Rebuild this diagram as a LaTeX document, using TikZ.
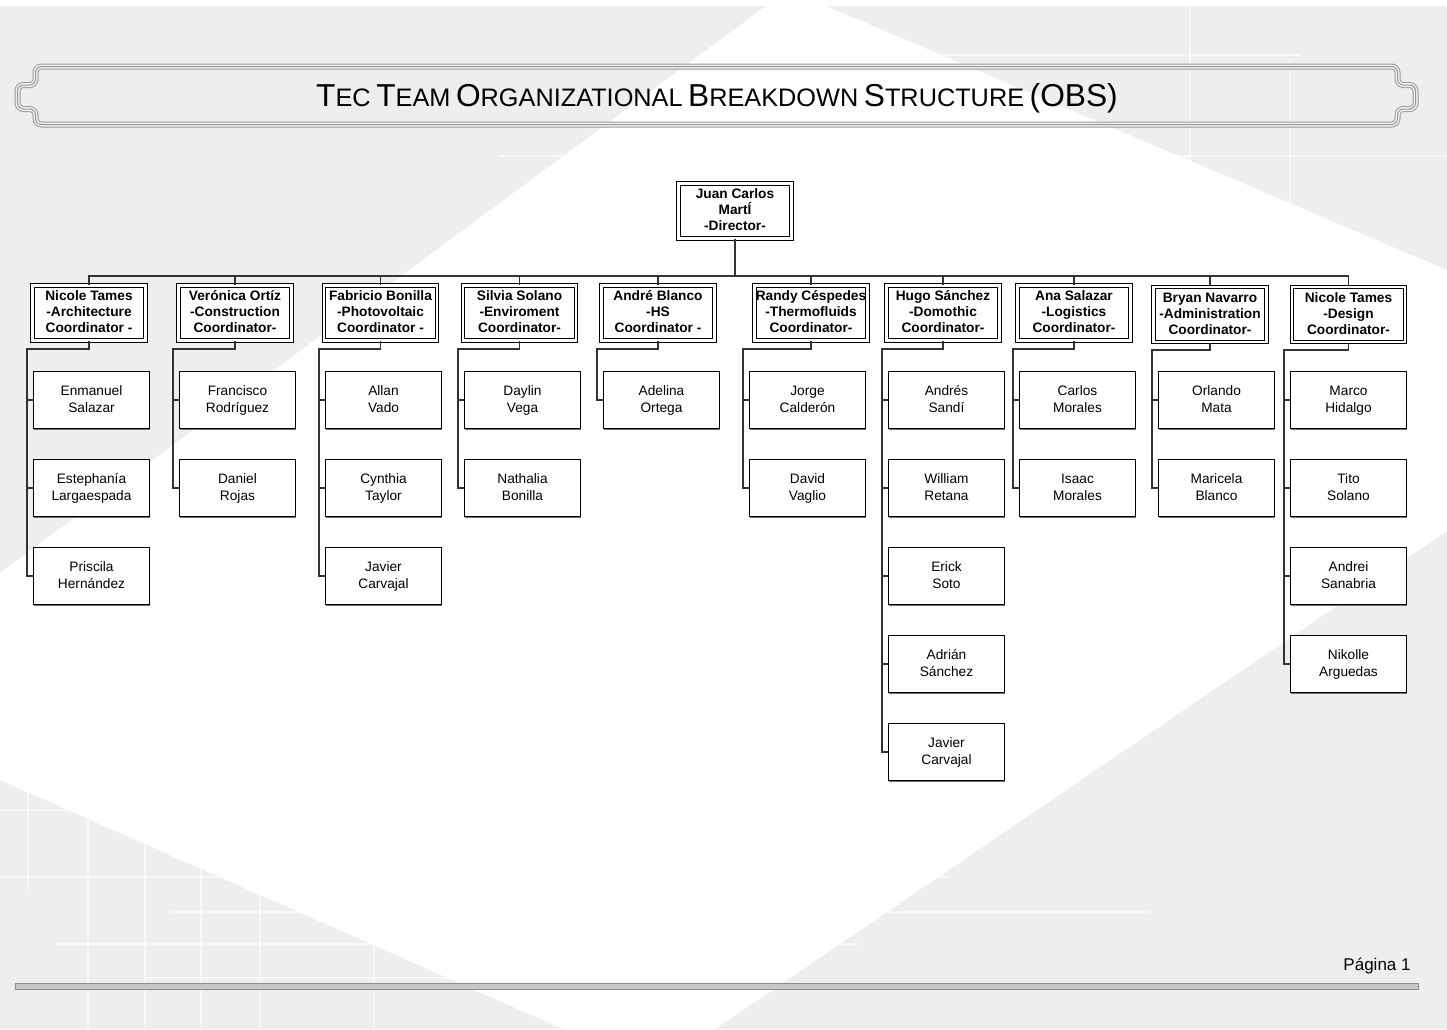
\documentclass[tikz,border=0pt]{standalone}
\usepackage{fontspec}
\setmainfont{Liberation Sans}
\usetikzlibrary{positioning}
\usetikzlibrary{shadows}
\definecolor{bggray}{HTML}{EEEEEE}
\tikzset{head node/.style={rectangle,draw=black,line width=0.6pt,double=white,double distance=1.2pt,fill=white,minimum width=56.5pt,minimum height=27.5pt,inner sep=0pt,align=center,font=\bfseries\fontsize{6.85}{8}\selectfont,text height=21.5pt,text depth=1.6pt}}
\tikzset{member node/.style={rectangle,draw=black,line width=0.5pt,fill=white,minimum width=58pt,minimum height=28.5pt,inner sep=0pt,align=center,font=\fontsize{6.85}{8.5}\selectfont,text height=14pt,text depth=1.4pt,drop shadow={shadow xshift=0pt,shadow yshift=-0.7pt,fill=black!70,opacity=0.8}}}
\tikzset{link/.style={draw=black!80,line width=0.6pt}}
\tikzset{frame line/.style={draw=black!40,line width=3pt,rounded corners=3pt,postaction={draw=white!94!black,line width=2pt,rounded corners=3pt},postaction={draw=black!40,line width=0.5pt,rounded corners=3pt}}}
\tikzset{grid line/.style={draw=white!60!bggray,line width=0.8pt}}
\newcommand\capsc[2]{{\fontsize{15.85}{18}\selectfont#1}{\fontsize{12.65}{14}\selectfont#2}}

\begin{document}
\begin{tikzpicture}[x=0.5pt,y=-0.5pt]
    \useasboundingbox (0,0) rectangle (1447,1029);
    % background
    \fill[white] (0,0) rectangle (1447,1029);
    \fill[bggray] (0,6) rectangle (1447,1029);
    \draw[grid line] (886,55) -- (1300,55);
    \draw[grid line] (498,156) -- (1447,156);
    \draw[grid line] (1190,6) -- (1190,270);
    \draw[grid line] (1290,60) -- (1290,270);
    \draw[grid line] (0,810) -- (250,810);
    \draw[grid line] (0,877) -- (950,877);
    \draw[grid line] (170,912) -- (1150,912);
    \draw[grid line] (55,944) -- (860,944);
    \draw[grid line] (145,978) -- (460,978);
    \draw[grid line] (28,750) -- (28,890);
    \draw[grid line] (88,760) -- (88,1029);
    \draw[grid line] (145,800) -- (145,1029);
    \draw[grid line] (201,830) -- (201,1029);
    \draw[grid line] (260,850) -- (260,1029);
    \draw[grid line] (374,880) -- (374,1029);
    \fill[white] (766,6) -- (826,6) -- (1447,270) -- (1447,531) -- (715,1029) -- (563,1029) -- (0,780) -- (0,573) -- cycle;

    % title banner
    \draw[frame line] (35.5,66.5) -- (1397.5,66.5) -- (1397.5,85) -- (1415.5,85) -- (1415.5,109) -- (1397.5,109) -- (1397.5,124.5) -- (35.5,124.5) -- (35.5,109) -- (17.5,109) -- (17.5,85) -- (35.5,85) -- cycle;
    \node (title) at (717,98) {\capsc{T}{EC} \capsc{T}{EAM} \capsc{O}{RGANIZATIONAL} \capsc{B}{REAKDOWN} \capsc{S}{TRUCTURE} {\fontsize{15.85}{18}\selectfont (OBS)}};

    % director and coordinators
    \node[head node] (d) at (735,211) {Juan Carlos\\MartÍ\\-Director-};
    \node[head node] (c_{1}) at (89,313) {Nicole Tames\\-Architecture\\Coordinator -};
    \node[head node] (c_{2}) at (235,313) {Verónica Ortíz\\-Construction\\Coordinator-};
    \node[head node] (c_{3}) at (380.5,313) {Fabricio Bonilla\\-Photovoltaic\\Coordinator -};
    \node[head node] (c_{4}) at (519.5,313) {Silvia Solano\\-Enviroment\\Coordinator-};
    \node[head node] (c_{5}) at (658,313) {André Blanco\\-HS\\Coordinator -};
    \node[head node] (c_{6}) at (811,313) {Randy Céspedes\\-Thermofluids\\Coordinator-};
    \node[head node] (c_{7}) at (943,313) {Hugo Sánchez\\-Domothic\\Coordinator-};
    \node[head node] (c_{8}) at (1074,313) {Ana Salazar\\-Logistics\\Coordinator-};
    \node[head node] (c_{9}) at (1210,314.5) {Bryan Navarro\\-Administration\\Coordinator-};
    \node[head node] (c_{10}) at (1348.5,314.5) {Nicole Tames\\-Design\\Coordinator-};

    % team members
    \node[member node] (m_{1a}) at (91.5,400) {Enmanuel\\Salazar};
    \node[member node] (m_{1b}) [below = 15pt of m_{1a}] {Estephanía\\Largaespada};
    \node[member node] (m_{1c}) [below = 15pt of m_{1b}] {Priscila\\Hernández};
    \node[member node] (m_{2a}) at (237.5,400) {Francisco\\Rodríguez};
    \node[member node] (m_{2b}) [below = 15pt of m_{2a}] {Daniel\\Rojas};
    \node[member node] (m_{3a}) at (383.5,400) {Allan\\Vado};
    \node[member node] (m_{3b}) [below = 15pt of m_{3a}] {Cynthia\\Taylor};
    \node[member node] (m_{3c}) [below = 15pt of m_{3b}] {Javier\\Carvajal};
    \node[member node] (m_{4a}) at (522.5,400) {Daylin\\Vega};
    \node[member node] (m_{4b}) [below = 15pt of m_{4a}] {Nathalia\\Bonilla};
    \node[member node] (m_{5a}) at (661.5,400) {Adelina\\Ortega};
    \node[member node] (m_{6a}) at (807.5,400) {Jorge\\Calderón};
    \node[member node] (m_{6b}) [below = 15pt of m_{6a}] {David\\Vaglio};
    \node[member node] (m_{7a}) at (946.5,400) {Andrés\\Sandí};
    \node[member node] (m_{7b}) [below = 15pt of m_{7a}] {William\\Retana};
    \node[member node] (m_{7c}) [below = 15pt of m_{7b}] {Erick\\Soto};
    \node[member node] (m_{7d}) [below = 15pt of m_{7c}] {Adrián\\Sánchez};
    \node[member node] (m_{7e}) [below = 15pt of m_{7d}] {Javier\\Carvajal};
    \node[member node] (m_{8a}) at (1077.5,400) {Carlos\\Morales};
    \node[member node] (m_{8b}) [below = 15pt of m_{8a}] {Isaac\\Morales};
    \node[member node] (m_{9a}) at (1216.5,400) {Orlando\\Mata};
    \node[member node] (m_{9b}) [below = 15pt of m_{9a}] {Maricela\\Blanco};
    \node[member node] (m_{10a}) at (1348.5,400) {Marco\\Hidalgo};
    \node[member node] (m_{10b}) [below = 15pt of m_{10a}] {Tito\\Solano};
    \node[member node] (m_{10c}) [below = 15pt of m_{10b}] {Andrei\\Sanabria};
    \node[member node] (m_{10d}) [below = 15pt of m_{10c}] {Nikolle\\Arguedas};

    % bus from the director
    \coordinate (bus) at (735,276);
    \draw[link] (d.south) -- (bus);
    \draw[link] (c_{1}.north) |- (bus) -| (c_{10}.north);
    \draw[link] (c_{2}.north) |- (bus);
    \draw[link] (c_{3}.north) |- (bus);
    \draw[link] (c_{4}.north) |- (bus);
    \draw[link] (c_{5}.north) |- (bus);
    \draw[link] (c_{6}.north) |- (bus);
    \draw[link] (c_{7}.north) |- (bus);
    \draw[link] (c_{8}.north) |- (bus);
    \draw[link] (c_{9}.north) |- (bus);

    % branches to the members
    \coordinate (b_{1}) at (27,349);
    \coordinate (b_{2}) at (173,349);
    \coordinate (b_{3}) at (319,349);
    \coordinate (b_{4}) at (458,349);
    \coordinate (b_{5}) at (597,349);
    \coordinate (b_{6}) at (743,349);
    \coordinate (b_{7}) at (882,349);
    \coordinate (b_{8}) at (1013,349);
    \coordinate (b_{9}) at (1152,350);
    \coordinate (b_{10}) at (1284,350);
    \draw[link] (c_{1}.south) |- (b_{1}) |- (m_{1c}.west);
    \draw[link] (b_{1}) |- (m_{1a}.west);
    \draw[link] (b_{1}) |- (m_{1b}.west);
    \draw[link] (c_{2}.south) |- (b_{2}) |- (m_{2b}.west);
    \draw[link] (b_{2}) |- (m_{2a}.west);
    \draw[link] (c_{3}.south) |- (b_{3}) |- (m_{3c}.west);
    \draw[link] (b_{3}) |- (m_{3a}.west);
    \draw[link] (b_{3}) |- (m_{3b}.west);
    \draw[link] (c_{4}.south) |- (b_{4}) |- (m_{4b}.west);
    \draw[link] (b_{4}) |- (m_{4a}.west);
    \draw[link] (c_{5}.south) |- (b_{5}) |- (m_{5a}.west);
    \draw[link] (c_{6}.south) |- (b_{6}) |- (m_{6b}.west);
    \draw[link] (b_{6}) |- (m_{6a}.west);
    \draw[link] (c_{7}.south) |- (b_{7}) |- (m_{7e}.west);
    \draw[link] (b_{7}) |- (m_{7a}.west);
    \draw[link] (b_{7}) |- (m_{7b}.west);
    \draw[link] (b_{7}) |- (m_{7c}.west);
    \draw[link] (b_{7}) |- (m_{7d}.west);
    \draw[link] (c_{8}.south) |- (b_{8}) |- (m_{8b}.west);
    \draw[link] (b_{8}) |- (m_{8a}.west);
    \draw[link] (c_{9}.south) |- (b_{9}) |- (m_{9b}.west);
    \draw[link] (b_{9}) |- (m_{9a}.west);
    \draw[link] (c_{10}.south) |- (b_{10}) |- (m_{10d}.west);
    \draw[link] (b_{10}) |- (m_{10a}.west);
    \draw[link] (b_{10}) |- (m_{10b}.west);
    \draw[link] (b_{10}) |- (m_{10c}.west);

    % footer
    \draw[fill=black!22,draw=black!45,line width=0.5pt] (15,983) rectangle (1418,989);
    \node[anchor=east,inner sep=0pt,font=\fontsize{8.5}{10}\selectfont] (page) at (1411,966) {Página 1};
\end{tikzpicture}
\end{document}
